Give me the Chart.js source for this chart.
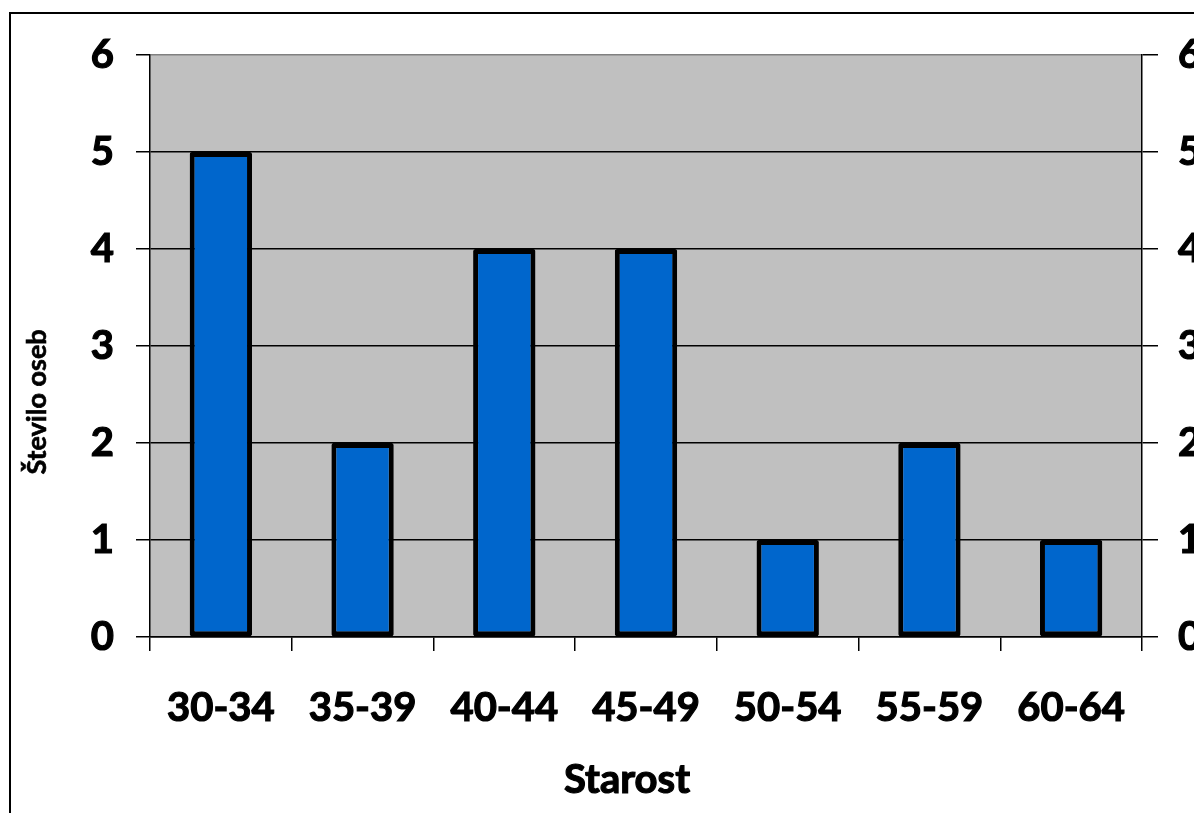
<!DOCTYPE html>
<html>
<head>
<meta charset="utf-8">
<script src="https://cdn.jsdelivr.net/npm/chart.js@4.4.1/dist/chart.umd.min.js"></script>
<style>
html, body { margin: 0; padding: 0; background: #fff; overflow: hidden; }
#frame { position: absolute; left: 9px; top: 12px; width: 1400px; height: 1000px; border-left: 2px solid #000; border-top: 2px solid #000; }
#myChart { position: absolute; left: 0; top: 0; }
</style>
</head>
<body>
<div id="frame"></div>
<canvas id="myChart" width="1260" height="813"></canvas>
<script>
// age groups and number of people in each
var categories = ["30-34", "35-39", "40-44", "45-49", "50-54", "55-59", "60-64"];
var counts = [5, 2, 4, 4, 1, 2, 1];
var yMin = 0;
var yMax = 6;
var yStep = 1;
var xTitle = "Starost";
var yTitle = "Število oseb";

var labelFont = { family: "Lato", weight: "bold", size: 40 };

// grey plot area like the old excel chart
var areaBackground = {
  id: "areaBackground",
  beforeDraw: function (chart) {
    var a = chart.chartArea;
    var ctx = chart.ctx;
    ctx.save();
    ctx.fillStyle = "#C0C0C0";
    ctx.fillRect(a.left, a.top, a.right - a.left, a.bottom - a.top);
    ctx.restore();
  }
};

// axis titles are not centred on the plot in the original, so draw them here
var axisTitles = {
  id: "axisTitles",
  afterDraw: function (chart) {
    var ctx = chart.ctx;
    var a = chart.chartArea;
    ctx.save();
    ctx.fillStyle = "#000";
    ctx.strokeStyle = "#000";
    ctx.textAlign = "center";
    ctx.textBaseline = "middle";
    ctx.font = "bold 40px Lato";
    ctx.lineWidth = 1.2;
    ctx.fillText(xTitle, a.left + 477, a.bottom + 143);
    ctx.strokeText(xTitle, a.left + 477, a.bottom + 143);
    ctx.translate(37, a.top + 347);
    ctx.rotate(-Math.PI / 2);
    ctx.font = "bold 27px Lato";
    ctx.lineWidth = 0.6;
    ctx.fillText(yTitle, 0, 0);
    ctx.strokeText(yTitle, 0, 0);
    ctx.restore();
  }
};

var ctx = document.getElementById("myChart").getContext("2d");
var myBarChart = new Chart(ctx, {
  type: "bar",
  data: {
    labels: categories,
    datasets: [{
      label: yTitle,
      data: counts,
      backgroundColor: "#0066CC",
      borderColor: "#000",
      borderWidth: 5,
      borderSkipped: false,
      borderRadius: 2,
      barPercentage: 0.44,
      categoryPercentage: 1.0
    }]
  },
  options: {
    responsive: false,
    animation: false,
    layout: { padding: { top: 55, left: 0, right: 0, bottom: 0 } },
    plugins: {
      legend: { display: false },
      tooltip: { enabled: false }
    },
    scales: {
      x: {
        grid: { display: true, drawOnChartArea: false, offset: true, tickLength: 14, color: "#000", lineWidth: 1.5 },
        border: { display: true, color: "#000", width: 1.5 },
        ticks: { font: labelFont, color: "#000", padding: 33, maxRotation: 0, textStrokeColor: "#000", textStrokeWidth: 1.2 },
        afterFit: function (s) { s.height = 176; }
      },
      y: {
        position: "left",
        min: yMin,
        max: yMax,
        ticks: { stepSize: yStep, font: labelFont, color: "#000", padding: 22, textStrokeColor: "#000", textStrokeWidth: 1.2 },
        grid: {
          color: function (c) { return c.tick && c.tick.value === yMax ? "#808080" : "#000"; },
          tickColor: "#000",
          lineWidth: 1.5,
          tickLength: 14
        },
        border: { display: true, color: "#000", width: 1.5 },
        afterFit: function (s) { s.width = 150; }
      },
      y2: {
        position: "right",
        display: true,
        min: yMin,
        max: yMax,
        ticks: { stepSize: yStep, font: labelFont, color: "#000", padding: 20, textStrokeColor: "#000", textStrokeWidth: 1.2 },
        grid: { drawOnChartArea: false, tickLength: 16, color: "#000", lineWidth: 1.5 },
        border: { display: true, color: "#000", width: 1.5 },
        afterFit: function (s) { s.width = 118; }
      }
    }
  },
  plugins: [areaBackground, axisTitles]
});
</script>
</body>
</html>
